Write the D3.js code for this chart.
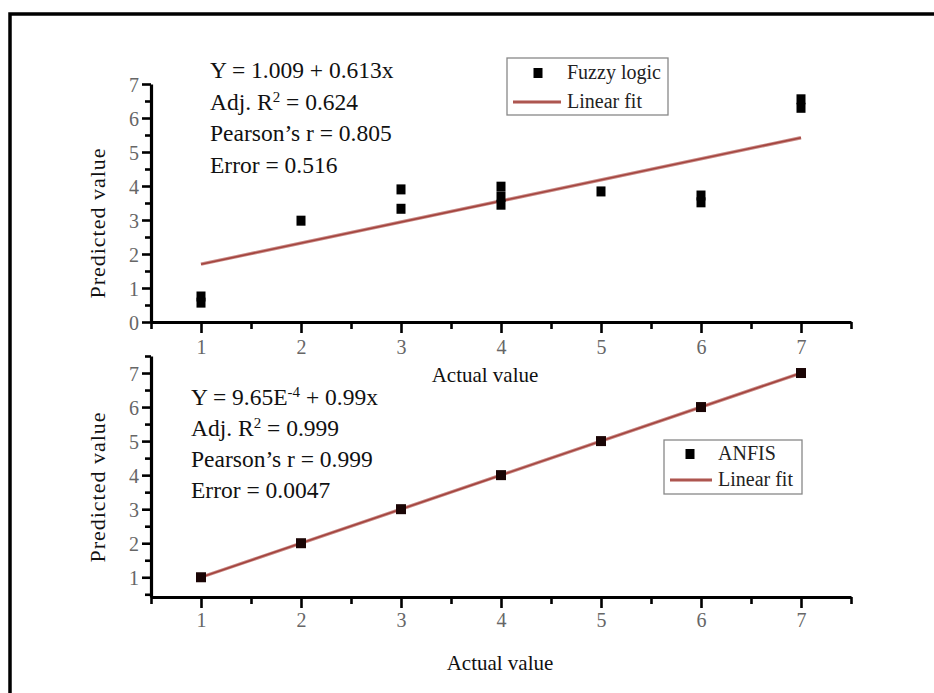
<!DOCTYPE html>
<html>
<head>
<meta charset="utf-8">
<script src="https://cdn.jsdelivr.net/npm/d3@7"></script>
<style>
  html, body { margin: 0; padding: 0; background: #fff; }
  svg { display: block; }
  svg text { font-family: "Liberation Serif", "DejaVu Serif", serif !important; }
</style>
</head>
<body>
<svg id="chart" width="934" height="693"></svg>
<script>
// ---- Data ----
const xTicks = [1, 2, 3, 4, 5, 6, 7];
const yTicksTop = [0, 1, 2, 3, 4, 5, 6, 7];
const yTicksBottom = [1, 2, 3, 4, 5, 6, 7];

// Fuzzy logic predictions (actual, predicted)
const fuzzyActual    = [1, 1, 2, 3, 3, 4, 4, 4, 5, 6, 6, 7, 7];
const fuzzyPredicted = [0.75, 0.57, 2.98, 3.9, 3.33, 3.98, 3.68, 3.45, 3.84, 3.72, 3.52, 6.55, 6.3];
const fuzzyFitX = [1, 7];
const fuzzyFitY = [1.70, 5.42];

// ANFIS predictions
const anfisActual    = [1, 2, 3, 4, 5, 6, 7];
const anfisPredicted = [1, 2, 3, 4, 5, 6, 7];
const anfisFitX = [1, 7];
const anfisFitY = [1, 7];

const fuzzyStats = [
  ["Y = 1.009 + 0.613x"],
  ["Adj. R", "2", " = 0.624"],
  ["Pearson’s r = 0.805"],
  ["Error = 0.516"]
];
const anfisStats = [
  ["Y = 9.65E", "-4", " + 0.99x"],
  ["Adj. R", "2", " = 0.999"],
  ["Pearson’s r = 0.999"],
  ["Error = 0.0047"]
];
const legendTop = ["Fuzzy logic", "Linear fit"];
const legendBottom = ["ANFIS", "Linear fit"];
const xTitle = "Actual value";
const yTitle = "Predicted value";

// ---- Drawing ----
const svg = d3.select("#chart");
const fitColor = "#a3443e";

// frame
svg.append("path")
  .attr("d", "M10,700 L10,14 L940,14")
  .attr("fill", "none").attr("stroke", "#000").attr("stroke-width", 3.5);

const x = d3.scaleLinear().domain([0.5, 7.5]).range([151, 851]);
const minorX = d3.range(0.5, 7.51, 0.5);

function drawPanel(cfg) {
  const g = svg.append("g");
  const y = cfg.y;
  const minorY = d3.range(cfg.minorStart, cfg.minorEnd + 0.01, 0.5);
  const axisX = d3.axisBottom(x).tickValues(minorX)
    .tickFormat(d => xTicks.includes(d) ? d : "")
    .tickSize(0).tickSizeOuter(0);
  const gx = g.append("g").attr("transform", `translate(0,${cfg.xAxisY})`).call(axisX)
    .attr("font-family", null).attr("font-size", null);
  gx.select(".domain").attr("stroke", "#000").attr("stroke-width", 3.2);
  gx.selectAll(".tick line").remove();
  gx.selectAll(".tick").append("line")
    .attr("y1", 0).attr("y2", d => Number.isInteger(d) ? 11 : 7)
    .attr("stroke", "#000").attr("stroke-width", 2.6);
  gx.selectAll(".tick text")
    .attr("y", cfg.xLabelDy).attr("dy", "0")
    .style("font-size", "20px").attr("fill", "#666");

  const axisY = d3.axisLeft(y).tickValues(minorY)
    .tickFormat(d => cfg.yTicks.includes(d) ? d : "")
    .tickSize(0).tickSizeOuter(0);
  const gy = g.append("g").attr("transform", `translate(151,0)`).call(axisY)
    .attr("font-family", null).attr("font-size", null);
  gy.select(".domain").attr("stroke", "#000").attr("stroke-width", 3.2);
  gy.selectAll(".tick line").remove();
  gy.selectAll(".tick").append("line")
    .attr("x1", 0).attr("x2", d => Number.isInteger(d) ? -9 : -6)
    .attr("stroke", "#000").attr("stroke-width", 2.6);
  gy.selectAll(".tick text")
    .attr("x", -12).attr("dy", "0.35em")
    .style("font-size", "20px").attr("fill", "#666");

  // fit line
  const line = d3.line().x(d => x(d[0])).y(d => y(d[1]));
  const fitPts = cfg.fitX.map((v, i) => [v, cfg.fitY[i]]);
  g.append("path").datum(fitPts).attr("d", line)
    .attr("fill", "none").attr("stroke", "#c98a86").attr("stroke-width", 3.4);
  g.append("path").datum(fitPts).attr("d", line)
    .attr("fill", "none").attr("stroke", fitColor).attr("stroke-width", 1.6);

  // points
  const s = cfg.marker;
  g.selectAll("rect.pt").data(cfg.xs.map((v, i) => [v, cfg.ys[i]]))
    .join("rect").attr("class", "pt")
    .attr("x", d => x(d[0]) - s[0] / 2).attr("y", d => y(d[1]) - s[1] / 2)
    .attr("width", s[0]).attr("height", s[1])
    .attr("fill", cfg.markerFill);

  // stats text
  cfg.stats.forEach((parts, i) => {
    const t = g.append("text").attr("x", cfg.statsX).attr("y", cfg.statsY + i * cfg.statsGap)
      .style("font-size", "23.5px").attr("fill", "#111");
    parts.forEach((p, j) => {
      const ts = t.append("tspan").text(p);
      if (j === 1) ts.style("font-size", "15px").attr("dy", -8);
      if (j === 2) ts.attr("dy", 8);
    });
  });

  // legend
  const L = cfg.legend;
  g.append("rect").attr("x", L.x).attr("y", L.y).attr("width", L.w).attr("height", L.h)
    .attr("fill", "#fff").attr("stroke", "#888").attr("stroke-width", 1.3);
  g.append("rect").attr("x", L.mx - 4.5).attr("y", L.y + L.row1 - 5).attr("width", 9).attr("height", 10)
    .attr("fill", "#000");
  g.append("text").attr("x", L.tx).attr("y", L.y + L.row1 + 6).style("font-size", "20px")
    .attr("fill", "#222").text(cfg.legendText[0]);
  g.append("line").attr("x1", L.x + 6).attr("x2", L.tx - 6)
    .attr("y1", L.y + L.row2).attr("y2", L.y + L.row2)
    .attr("stroke", "#c98a86").attr("stroke-width", 3.4);
  g.append("line").attr("x1", L.x + 6).attr("x2", L.tx - 6)
    .attr("y1", L.y + L.row2).attr("y2", L.y + L.row2)
    .attr("stroke", fitColor).attr("stroke-width", 1.6);
  g.append("text").attr("x", L.tx).attr("y", L.y + L.row2 + 6).style("font-size", "20px")
    .attr("fill", "#222").text(cfg.legendText[1]);

  // axis titles
  g.append("text").attr("x", cfg.xTitleX).attr("y", cfg.xTitleY)
    .attr("text-anchor", "middle").style("font-size", "21px").attr("fill", "#111").text(xTitle);
  g.append("text").attr("transform", `translate(105,${cfg.yTitleY}) rotate(-90)`)
    .attr("text-anchor", "middle").style("font-size", "22px").attr("letter-spacing", 1)
    .attr("fill", "#111").text(yTitle);
}

// Top panel
drawPanel({
  y: d3.scaleLinear().domain([0, 7]).range([322, 84]),
  yTicks: yTicksTop,
  minorStart: 0, minorEnd: 7,
  xAxisY: 322, xLabelDy: 32,
  fitX: fuzzyFitX, fitY: fuzzyFitY,
  xs: fuzzyActual, ys: fuzzyPredicted,
  marker: [9, 10], markerFill: "#000",
  stats: fuzzyStats, statsX: 210, statsY: 78, statsGap: 31.5,
  legend: { x: 507, y: 58, w: 161, h: 57, mx: 538, tx: 567, row1: 15, row2: 44 },
  legendText: legendTop,
  xTitleX: 485, xTitleY: 382, yTitleY: 223
});

// Bottom panel
drawPanel({
  y: d3.scaleLinear().domain([0.42, 7.5]).range([597, 356]),
  yTicks: yTicksBottom,
  minorStart: 0.5, minorEnd: 7.5,
  xAxisY: 597, xLabelDy: 30,
  fitX: anfisFitX, fitY: anfisFitY,
  xs: anfisActual, ys: anfisPredicted,
  marker: [10, 10], markerFill: "#1a0505",
  stats: anfisStats, statsX: 191, statsY: 405, statsGap: 31,
  legend: { x: 664, y: 440, w: 138, h: 54, mx: 690, tx: 718, row1: 14, row2: 40 },
  legendText: legendBottom,
  xTitleX: 500, xTitleY: 670, yTitleY: 487
});
</script>
</body>
</html>
